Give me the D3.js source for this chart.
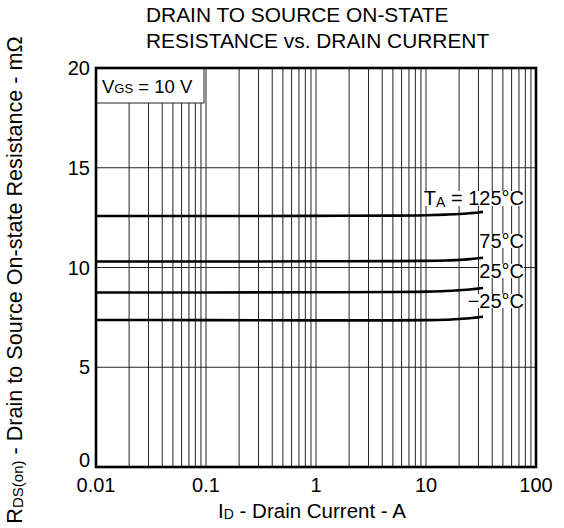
<!DOCTYPE html>
<html><head><meta charset="utf-8">
<script src="https://cdn.jsdelivr.net/npm/d3@7/dist/d3.min.js"></script>
<style>body{margin:0;background:#fff}svg{display:block}text{font-family:"Liberation Sans",Arial,sans-serif;fill:#000}</style>
</head><body><svg id="c" width="564" height="528"></svg>
<script>
// Data
const currents = [0.01, 0.1, 1, 5, 10, 15, 20, 25, 30, 33];
const r125 = [12.58, 12.58, 12.59, 12.60, 12.62, 12.65, 12.68, 12.72, 12.76, 12.79];
const r75  = [10.30, 10.30, 10.31, 10.32, 10.33, 10.35, 10.38, 10.42, 10.46, 10.49];
const r25  = [8.75, 8.75, 8.76, 8.77, 8.79, 8.82, 8.86, 8.90, 8.94, 8.97];
const rm25 = [7.37, 7.36, 7.35, 7.35, 7.36, 7.38, 7.42, 7.46, 7.50, 7.53];
const seriesNames = ["125", "75", "25", "-25"];
const xTicks = [0.01, 0.1, 1, 10, 100];
const xTickLabels = ["0.01", "0.1", "1", "10", "100"];
const yTicks = [0, 5, 10, 15, 20];

const L = 96, R = 536, T = 68, B = 467;
const svg = d3.select("#c");
const x = d3.scaleLog().domain([0.01, 100]).range([L, R]);
const y = d3.scaleLinear().domain([0, 20]).range([B, T]);

// vertical grid (minor + major)
const vgrid = [];
for (let d = -2; d < 2; d++) for (let m = 1; m <= 9; m++) vgrid.push(m * Math.pow(10, d));
svg.append("g").selectAll("line").data(vgrid.filter(v => v > 0.01)).join("line")
  .attr("x1", d => x(d)).attr("x2", d => x(d)).attr("y1", T).attr("y2", B)
  .attr("stroke", "#222").attr("stroke-width", 1);
// horizontal grid
svg.append("g").selectAll("line").data([5, 10, 15]).join("line")
  .attr("x1", L).attr("x2", R).attr("y1", d => y(d)).attr("y2", d => y(d))
  .attr("stroke", "#222").attr("stroke-width", 1);

// VGS box
svg.append("rect").attr("x", L).attr("y", T).attr("width", x(0.1) - 2 - L).attr("height", 35)
  .attr("fill", "#fff").attr("stroke", "#222").attr("stroke-width", 1);
const vt = svg.append("text").attr("x", 102).attr("y", 93).attr("font-size", 18.5);
vt.append("tspan").text("V");
vt.append("tspan").attr("font-size", 13).text("GS");
vt.append("tspan").text(" = 10 V");

// curves
const line = d3.line().x((d, i) => x(currents[i])).y(d => y(d)).curve(d3.curveMonotoneX);
svg.append("g").selectAll("path").data([r125, r75, r25, rm25]).join("path")
  .attr("d", d => line(d)).attr("fill", "none").attr("stroke", "#000").attr("stroke-width", 2.6);

// curve labels with white background
function label(xp, yp, parts) {
  const g = svg.append("g");
  const t = g.append("text").attr("x", xp).attr("y", yp).attr("font-size", 20).attr("text-anchor", "end");
  parts.forEach(p => {
    const ts = t.append("tspan").text(p.t);
    if (p.sub) ts.attr("font-size", 14).attr("dy", 2);
    if (p.up) ts.attr("dy", -2);
  });
  const bb = t.node().getBBox();
  g.insert("rect", "text").attr("x", bb.x).attr("y", bb.y + 4).attr("width", bb.width).attr("height", bb.height - 8).attr("fill", "#fff");
}
label(524, 205, [{t: "T"}, {t: "A", sub: true}, {t: " = 125°C", up: true}]);
label(524, 248, [{t: "75°C"}]);
label(524, 278, [{t: "25°C"}]);
label(524, 308, [{t: "\u221225°C"}]);

// frame
svg.append("rect").attr("x", L).attr("y", T).attr("width", R - L).attr("height", B - T)
  .attr("fill", "none").attr("stroke", "#000").attr("stroke-width", 2.6);

// tick labels
svg.append("g").selectAll("text").data(yTicks).join("text")
  .attr("x", 90).attr("y", d => y(d) + (d === 0 ? 0 : 7)).attr("text-anchor", "end").attr("font-size", 20).text(d => d);
svg.append("g").selectAll("text").data(xTicks).join("text")
  .attr("x", d => x(d)).attr("y", 492).attr("text-anchor", "middle").attr("font-size", 20)
  .text((d, i) => xTickLabels[i]);

// axis titles
const xt = svg.append("text").attr("x", 312).attr("y", 518).attr("text-anchor", "middle").attr("font-size", 20.5);
xt.append("tspan").text("I");
xt.append("tspan").attr("font-size", 14).attr("dy", 1).text("D");
xt.append("tspan").attr("dy", -1).text(" - Drain Current - A");

const yt = svg.append("text").attr("transform", "translate(22,280) rotate(-90)").attr("text-anchor", "middle").attr("font-size", 21.6);
yt.append("tspan").text("R");
yt.append("tspan").attr("font-size", 15).attr("dy", 1).text("DS(on)");
yt.append("tspan").attr("dy", -1).text(" - Drain to Source On-state Resistance - m\u03A9");

// title
svg.append("text").attr("x", 146).attr("y", 22).attr("font-size", 20.9).text("DRAIN TO SOURCE ON-STATE");
svg.append("text").attr("x", 146).attr("y", 48).attr("font-size", 20.9).text("RESISTANCE vs. DRAIN CURRENT");
</script></body></html>
